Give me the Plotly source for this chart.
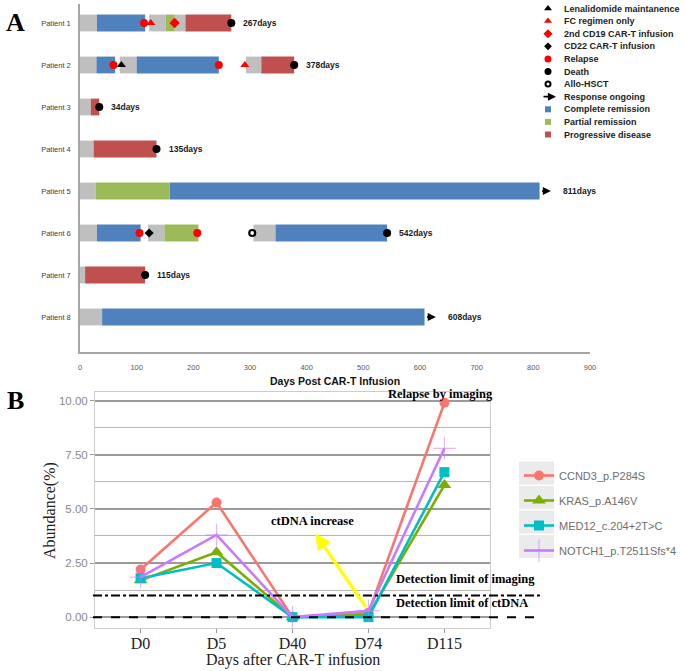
import plotly.graph_objects as go

W, H = 685, 671

# ---------------- Panel A data ----------------
patients = ["Patient 1", "Patient 2", "Patient 3", "Patient 4",
            "Patient 5", "Patient 6", "Patient 7", "Patient 8"]

seg_patient = [1, 1, 1, 1, 1, 1,
               2, 2, 2, 2, 2, 2,
               3, 3,
               4, 4,
               5, 5, 5,
               6, 6, 6, 6, 6, 6,
               7, 7,
               8, 8]
seg_start = [0, 30, 122, 151, 167, 186,
             0, 29, 70, 100, 293, 320,
             0, 19,
             0, 24,
             0, 28, 158,
             0, 30, 120, 149, 306, 345,
             0, 9,
             0, 39]
seg_end = [30, 115, 151, 167, 186, 267,
           29, 62, 100, 245, 320, 378,
           19, 34,
           24, 135,
           28, 158, 811,
           30, 107, 149, 209, 345, 542,
           9, 115,
           39, 608]
seg_state = ["Pre", "CR", "Pre", "PR", "Pre", "PD",
             "Pre", "CR", "Pre", "CR", "Pre", "PD",
             "Pre", "PD",
             "Pre", "PD",
             "Pre", "PR", "CR",
             "Pre", "CR", "Pre", "PR", "Pre", "CR",
             "Pre", "PD",
             "Pre", "CR"]

ev_patient = [2, 1, 2, 1, 6, 1, 2, 2, 6, 6, 1, 2, 3, 4, 6, 7, 6]
ev_day = [73, 125, 291, 167, 122, 113, 59, 245, 105, 207, 267, 378, 34, 135, 542, 115, 304]
ev_type = ["Lenalidomide maintanence",
           "FC regimen only", "FC regimen only",
           "2nd CD19 CAR-T infusion",
           "CD22 CAR-T infusion",
           "Relapse", "Relapse", "Relapse", "Relapse", "Relapse",
           "Death", "Death", "Death", "Death", "Death", "Death",
           "Allo-HSCT"]

surv_patient = [1, 2, 3, 4, 5, 6, 7, 8]
surv_days = [267, 378, 34, 135, 811, 542, 115, 608]
surv_ongoing = [False, False, False, False, True, False, False, True]

xticks_a = [0, 100, 200, 300, 400, 500, 600, 700, 800, 900]

# ---------------- Panel B data ----------------
days_b = ["D0", "D5", "D40", "D74", "D115"]
ccnd3 = [2.2, 5.3, 0.0, 0.2, 9.9]
kras = [1.7, 3.0, 0.0, 0.1, 6.1]
med12 = [1.8, 2.5, 0.0, 0.0, 6.7]
notch1 = [1.85, 3.8, 0.0, 0.3, 7.8]
yticks_b = [0, 2.5, 5, 7.5, 10]

# ---------------- styles ----------------
state_color = {"Pre": "#BFBFBF", "CR": "#4F81BD", "PR": "#9BBB59", "PD": "#C0504D"}
ev_style = {
    "Lenalidomide maintanence": dict(symbol="triangle-up", color="black", size=8),
    "FC regimen only": dict(symbol="triangle-up", color="#FF0000", size=8),
    "2nd CD19 CAR-T infusion": dict(symbol="diamond", color="#FF0000", size=8),
    "CD22 CAR-T infusion": dict(symbol="diamond", color="black", size=7),
    "Relapse": dict(symbol="circle", color="#FF0000", size=8),
    "Death": dict(symbol="circle", color="black", size=8),
    "Allo-HSCT": dict(symbol="circle-open", color="black", size=6),
}

def px_x(p):
    return p / W

def px_y(p):
    return 1 - p / H

fig = go.Figure()

# bars
for st in ["Pre", "CR", "PR", "PD"]:
    idx = [i for i, s in enumerate(seg_state) if s == st]
    fig.add_trace(go.Bar(
        y=[seg_patient[i] for i in idx],
        base=[seg_start[i] for i in idx],
        x=[seg_end[i] - seg_start[i] for i in idx],
        orientation="h", width=0.4,
        marker=dict(color=state_color[st], line=dict(width=0)),
        showlegend=False, xaxis="x", yaxis="y", hoverinfo="skip"))

# events
for et, stl in ev_style.items():
    idx = [i for i, t in enumerate(ev_type) if t == et]
    lw = 2.2 if stl["symbol"] == "circle-open" else 0
    fig.add_trace(go.Scatter(
        x=[ev_day[i] for i in idx], y=[ev_patient[i] for i in idx],
        mode="markers",
        marker=dict(symbol=stl["symbol"], color=stl["color"], size=stl["size"],
                    line=dict(width=lw, color=stl["color"])),
        showlegend=False, xaxis="x", yaxis="y", hoverinfo="skip"))

annotations = []
# day labels and ongoing arrows
for p, d, og in zip(surv_patient, surv_days, surv_ongoing):
    if og:
        annotations.append(dict(x=d + 20, y=p, ax=d + 2, ay=p, xref="x", yref="y",
                                axref="x", ayref="y", text="", showarrow=True,
                                arrowhead=2, arrowsize=0.9, arrowwidth=1.8,
                                arrowcolor="black"))
    annotations.append(dict(x=d, y=p, xref="x", yref="y", text=f"<b>{d}days</b>",
                            showarrow=False, xanchor="left", yanchor="middle",
                            xshift=21 if og else 10,
                            font=dict(family="Liberation Sans", size=8.5, color="#1a1a1a")))

# legend A (drawn on a pixel overlay axis)
leg_items = [("Lenalidomide maintanence", "m", "Lenalidomide maintanence"),
             ("FC regimen only", "m", "FC regimen only"),
             ("2nd CD19 CAR-T infusion", "m", "2nd CD19 CAR-T infusion"),
             ("CD22 CAR-T infusion", "m", "CD22 CAR-T infusion"),
             ("Relapse", "m", "Relapse"),
             ("Death", "m", "Death"),
             ("Allo-HSCT", "m", "Allo-HSCT"),
             ("Response ongoing", "arrow", None),
             ("Complete remission", "sq", "CR"),
             ("Partial remission", "sq", "PR"),
             ("Progressive disease", "sq", "PD")]
leg_x, leg_tx, leg_y0, leg_dy = 548, 562, 8.5, 12.6
for k, (lab, kind, key) in enumerate(leg_items):
    yy = leg_y0 + k * leg_dy
    if kind == "m":
        stl = ev_style[key]
        lw = 2.0 if stl["symbol"] == "circle-open" else 0
        fig.add_trace(go.Scatter(x=[leg_x], y=[yy], mode="markers",
                                 marker=dict(symbol=stl["symbol"], color=stl["color"],
                                             size=stl["size"] - 1,
                                             line=dict(width=lw, color=stl["color"])),
                                 showlegend=False, xaxis="x3", yaxis="y3", hoverinfo="skip"))
    elif kind == "sq":
        fig.add_trace(go.Scatter(x=[leg_x], y=[yy], mode="markers",
                                 marker=dict(symbol="square", color=state_color[key], size=6),
                                 showlegend=False, xaxis="x3", yaxis="y3", hoverinfo="skip"))
    else:
        annotations.append(dict(x=leg_x + 8, y=yy, ax=leg_x - 6, ay=yy, xref="x3", yref="y3",
                                axref="x3", ayref="y3", text="", showarrow=True,
                                arrowhead=2, arrowsize=0.9, arrowwidth=1.8, arrowcolor="black"))
    annotations.append(dict(x=leg_tx, y=yy, xref="x3", yref="y3", text=f"<b>{lab}</b>",
                            showarrow=False, xanchor="left", yanchor="middle",
                            font=dict(family="Liberation Sans", size=9, color="#222222")))

annotations.append(dict(x=px_x(335), y=px_y(381), xref="paper", yref="paper",
                        xanchor="center", yanchor="middle",
                        text="<b>Days Post CAR-T Infusion</b>", showarrow=False,
                        font=dict(family="Liberation Sans", size=10.5, color="#111111")))

# panel letters
for letter, yy in [("A", 22), ("B", 400)]:
    annotations.append(dict(x=px_x(16), y=px_y(yy), xref="paper", yref="paper",
                            xanchor="center", yanchor="middle",
                            text=f"<b>{letter}</b>", showarrow=False,
                            font=dict(family="Liberation Serif", size=26, color="black")))

# ---------------- Panel B ----------------
series = [("CCND3_p.P284S", ccnd3, "#F8766D", dict(symbol="circle", size=10)),
          ("KRAS_p.A146V", kras, "#7CAE00", dict(symbol="triangle-up", size=12)),
          ("MED12_c.204+2T>C", med12, "#00BFC4", dict(symbol="square", size=10)),
          ("NOTCH1_p.T2511Sfs*4", notch1, "#C77CFF", dict(symbol="cross-thin", size=16))]
for name, vals, col, mk in series:
    if mk["symbol"] == "cross-thin":
        marker = dict(symbol="cross-thin", size=mk["size"],
                      line=dict(width=1.2, color="rgba(199,124,255,0.55)"), color=col)
    else:
        marker = dict(symbol=mk["symbol"], size=mk["size"], color=col)
    fig.add_trace(go.Scatter(x=days_b, y=vals, mode="lines+markers", name=name,
                             line=dict(color=col, width=2.6), marker=marker,
                             xaxis="x2", yaxis="y2", legend="legend2",
                             legendgroup=name, hoverinfo="skip"))

serif = "Liberation Serif"
annotations += [
    dict(x=3.95, y=10.33, xref="x2", yref="y2", text="<b>Relapse by imaging</b>",
         xanchor="center", yanchor="middle",
         showarrow=False, font=dict(family=serif, size=12.5, color="black")),
    dict(x=2.26, y=4.42, xref="x2", yref="y2", text="<b>ctDNA increase</b>",
         xanchor="center", yanchor="middle",
         showarrow=False, font=dict(family=serif, size=12.5, color="black")),
    dict(x=3.33, y=1.75, xref="x2", yref="y2", text="<b>Detection limit of imaging</b>",
         showarrow=False, xanchor="left", yanchor="middle",
         font=dict(family=serif, size=12.5, color="black")),
    dict(x=3.33, y=0.65, xref="x2", yref="y2", text="<b>Detection limit of ctDNA</b>",
         showarrow=False, xanchor="left", yanchor="middle",
         font=dict(family=serif, size=12.5, color="black")),
    dict(x=2.3, y=3.87, ax=2.98, ay=0.4, xref="x2", yref="y2", axref="x2", ayref="y2",
         text="", showarrow=True, arrowhead=2, arrowsize=1, arrowwidth=3.2,
         arrowcolor="#FFFF00"),
    dict(x=px_x(50), y=px_y(510), xref="paper", yref="paper", text="Abundance(%)",
         xanchor="center", yanchor="middle",
         textangle=-90, showarrow=False, font=dict(family=serif, size=16, color="#222222")),
    dict(x=px_x(293), y=px_y(660), xref="paper", yref="paper",
         xanchor="center", yanchor="middle",
         text="Days after CAR-T infusion", showarrow=False,
         font=dict(family=serif, size=16, color="#222222")),
]

shapes = [
    dict(type="line", xref="paper", yref="y2", x0=px_x(93), x1=px_x(540), y0=0, y1=0,
         line=dict(color="black", width=2, dash="dash")),
    dict(type="line", xref="paper", yref="y2", x0=px_x(93), x1=px_x(540), y0=1, y1=1,
         line=dict(color="black", width=2, dash="dashdot")),
]
for cy in [473, 497.5, 522, 546.5]:
    shapes.append(dict(type="rect", xref="paper", yref="paper", layer="below",
                       x0=px_x(519), x1=px_x(554), y0=px_y(cy - 11.5), y1=px_y(cy + 11.5),
                       fillcolor="#EBEBEB", line=dict(width=0)))

fig.update_layout(
    template="none",
    width=W, height=H, margin=dict(l=0, r=0, t=0, b=0),
    paper_bgcolor="white", plot_bgcolor="rgba(0,0,0,0)",
    font=dict(family="Liberation Sans", color="#404040"),
    barmode="overlay",
    annotations=annotations, shapes=shapes,
    xaxis=dict(domain=[px_x(80), px_x(590)], range=[0, 900], tickvals=xticks_a,
               showline=True, linecolor="#A6A6A6", linewidth=1.5, showgrid=False,
               zeroline=False, ticks="", anchor="y", ticklabelstandoff=7,
               tickfont=dict(family="Liberation Sans", size=7.5, color="#595959")),
    yaxis=dict(domain=[px_y(352), px_y(4)], range=[8.833, 0.548],
               tickvals=surv_patient, ticktext=patients, showline=True,
               linecolor="#A6A6A6", linewidth=1.5, showgrid=False, zeroline=False,
               ticks="", anchor="x", ticklabelstandoff=6,
               tickfont=dict(family="Liberation Sans", size=7.5, color="#404040")),
    xaxis2=dict(domain=[px_x(95), px_x(490)], range=[-0.6, 4.6], type="category",
                showline=True, mirror=True, linecolor="#CCCCCC", linewidth=1,
                showgrid=False, zeroline=False, ticks="outside", ticklen=4,
                tickcolor="#999999", anchor="y2", ticklabelstandoff=-3,
                tickfont=dict(family=serif, size=16, color="#222222")),
    yaxis2=dict(domain=[px_y(628), px_y(392)], range=[-0.5, 10.4],
                tickvals=yticks_b, tickformat=".2f", showline=True, mirror=True,
                linecolor="#CCCCCC", linewidth=1, showgrid=True, gridcolor="#9A9A9A",
                gridwidth=1.8, zeroline=False, ticks="outside", ticklen=4,
                tickcolor="#999999", anchor="x2",
                minor=dict(tickvals=[1.25, 3.75, 6.25, 8.75], showgrid=True,
                           gridcolor="#B5B5B5", gridwidth=1.3, ticks=""),
                tickfont=dict(family="Liberation Sans", size=11.5, color="#8A8A8A")),
    xaxis3=dict(domain=[0, 1], range=[0, W], visible=False, anchor="y3", fixedrange=True),
    yaxis3=dict(domain=[0, 1], range=[H, 0], visible=False, anchor="x3", fixedrange=True),
    legend2=dict(x=px_x(519), y=px_y(461), xanchor="left", yanchor="top",
                 bgcolor="rgba(0,0,0,0)", tracegroupgap=6, itemwidth=30, borderwidth=0,
                 font=dict(family="Liberation Sans", size=11, color="#6E6E6E")),
    showlegend=True,
)

fig.write_html("out.html", config={"displayModeBar": False},
               post_script="document.body.style.margin='0';")
